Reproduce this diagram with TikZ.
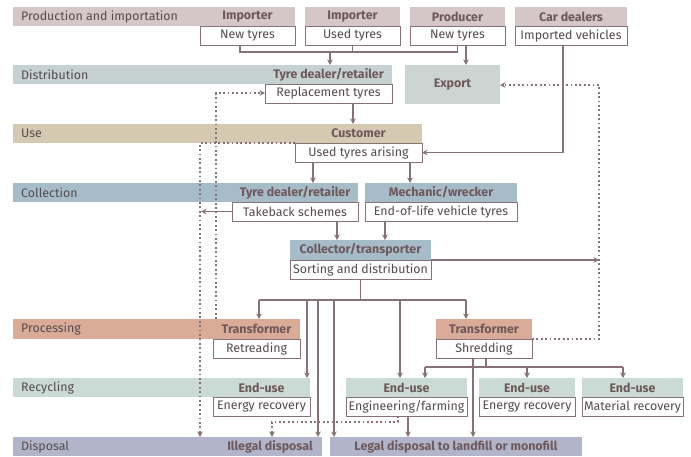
\documentclass[tikz,border=0pt]{standalone}
\usepackage{fontspec}
\setmainfont{Fira Sans}
\usetikzlibrary{arrows.meta,calc}
\definecolor{cprod}{RGB}{213,198,199}
\definecolor{cdist}{RGB}{198,210,210}
\definecolor{cexp}{RGB}{205,213,211}
\definecolor{cuse}{RGB}{214,201,178}
\definecolor{ccoll}{RGB}{166,189,201}
\definecolor{cproc}{RGB}{218,172,152}
\definecolor{crec}{RGB}{201,219,212}
\definecolor{cdisp}{RGB}{178,181,201}
\definecolor{cline}{RGB}{135,115,117}
\definecolor{ctext}{RGB}{85,75,78}
\definecolor{chead}{RGB}{110,88,92}
\begin{document}
\begin{tikzpicture}[x=1pt,y=-1pt,
 font=\fontsize{12.4}{14}\selectfont,
 band/.style={anchor=north west, minimum height=19pt, inner sep=0pt, outer sep=0pt},
 blabel/.style={anchor=west, text=ctext, inner sep=0pt},
 hdr/.style={font=\fontsize{12.4}{14}\selectfont\bfseries, text=chead, minimum height=19pt, inner sep=0pt, outer sep=0pt},
 box/.style={draw=cline, fill=white, line width=0.8pt, minimum height=19pt, inner sep=0pt, outer sep=0pt, text=ctext},
 ln/.style={draw=cline, line width=1.5pt},
 arr/.style={ln, -{Stealth[length=5.5pt,width=5.5pt]}},
 dots/.style={draw=cline, line width=1.6pt, dash pattern=on 1.8pt off 2.6pt},
 darr/.style={dots, -{Stealth[length=5.5pt,width=5.5pt]}},
]
\path[use as bounding box] (0,0) rectangle (691,456);

% ---------- Row 1: Production and importation
\node[band, fill=cprod, minimum width=282pt] (b1) at (13,7) {};
\node[blabel] (l1) at (21,16.5) {Production and importation};
\node[hdr] (h_imp1) at (247.5,16.5) {Importer};
\node[box, minimum width=95pt] (imp1) at (247.5,35.5) {New tyres};
\node[hdr, fill=cprod, minimum width=95pt] (h_imp2) at (352.5,16.5) {Importer};
\node[box, minimum width=95pt] (imp2) at (352.5,35.5) {Used tyres};
\node[hdr, fill=cprod, minimum width=95pt] (h_prod) at (457.5,16.5) {Producer};
\node[box, minimum width=95pt] (prod) at (457.5,35.5) {New tyres};
\node[hdr, fill=cprod, minimum width=112pt] (h_car) at (571,16.5) {Car dealers};
\node[box, minimum width=112pt] (car) at (571,35.5) {Imported vehicles};

% ---------- Row 2: Distribution
\node[band, fill=cdist, minimum width=379pt] (b2) at (13,65) {};
\node[blabel] (l2) at (21,74.5) {Distribution};
\node[hdr] (h_td1) at (328.5,74.5) {Tyre dealer/retailer};
\node[box, minimum width=127pt] (rep) at (328.5,93.5) {Replacement tyres};
\node[hdr, fill=cexp, minimum width=95pt, minimum height=39pt] (export) at (452.5,84.5) {Export};

% ---------- Row 3: Use
\node[band, fill=cuse, minimum width=409pt] (b3) at (13,124) {};
\node[blabel] (l3) at (21,133.5) {Use};
\node[hdr] (h_cust) at (358.5,133.5) {Customer};
\node[box, minimum width=127pt] (used) at (358.5,152.5) {Used tyres arising};

% ---------- Row 4: Collection
\node[band, fill=ccoll, minimum width=345pt] (b4) at (13,183) {};
\node[blabel] (l4) at (21,192.5) {Collection};
\node[hdr] (h_td2) at (295,192.5) {Tyre dealer/retailer};
\node[box, minimum width=126pt] (take) at (295,211.5) {Takeback schemes};
\node[hdr, fill=ccoll, minimum width=152pt] (h_mech) at (441,192.5) {Mechanic/wrecker};
\node[box, minimum width=152pt] (eol) at (441,211.5) {End-of-life vehicle tyres};

% ---------- Row 5: Collector
\node[hdr, fill=ccoll, minimum width=141pt, minimum height=20pt] (h_coll) at (360.5,250) {Collector/transporter};
\node[box, minimum width=141pt] (sort) at (360.5,269.5) {Sorting and distribution};

% ---------- Row 6: Processing
\node[band, fill=cproc, minimum width=287pt, minimum height=20pt] (b6) at (13,319) {};
\node[blabel] (l6) at (21,329) {Processing};
\node[hdr] (h_tr1) at (256.5,329) {Transformer};
\node[box, minimum width=87pt] (retr) at (256.5,348.5) {Retreading};
\node[hdr, fill=cproc, minimum width=96pt, minimum height=20pt] (h_tr2) at (484,329) {Transformer};
\node[box, minimum width=96pt] (shred) at (484,348.5) {Shredding};

% ---------- Row 7: Recycling
\node[band, fill=crec, minimum width=297pt] (b7) at (13,378) {};
\node[blabel] (l7) at (21,387.5) {Recycling};
\node[hdr] (h_eu1) at (261.5,387.5) {End-use};
\node[box, minimum width=97pt] (er1) at (261.5,406.5) {Energy recovery};
\node[hdr, fill=crec, minimum width=121pt] (h_eu2) at (406.5,387.5) {End-use};
\node[box, minimum width=121pt] (eng) at (406.5,406.5) {Engineering/farming};
\node[hdr, fill=crec, minimum width=96pt] (h_eu3) at (527,387.5) {End-use};
\node[box, minimum width=96pt] (er2) at (527,406.5) {Energy recovery};
\node[hdr, fill=crec, minimum width=101pt] (h_eu4) at (632.5,387.5) {End-use};
\node[box, minimum width=101pt] (mat) at (632.5,406.5) {Material recovery};

% ---------- Row 8: Disposal
\node[band, fill=cdisp, minimum width=309pt] (b8) at (13,437) {};
\node[blabel] (l8) at (21,446.5) {Disposal};
\node[hdr] (illegal) at (270,446.5) {Illegal disposal};
\node[hdr, fill=cdisp, minimum width=252pt] (legal) at (456,446.5) {Legal disposal to landfill or monofill};

% ---------- Connectors
\coordinate (j1) at (330,52);
\draw[ln] ([xshift=-7.5pt]imp1.south) |- (j1) -| (prod.south);
\draw[ln] (imp2.south) -- (imp2.south |- j1);
\draw[arr] (j1) -- (j1 |- b2.north);
\coordinate (p1) at ([xshift=8.5pt]prod.south);
\draw[arr] (p1) -- (p1 |- export.north);
\coordinate (c1) at ([xshift=-8pt]car.south);
\draw[arr] (c1) |- (used.east);
\coordinate (r1) at ([xshift=24.5pt]rep.south);
\draw[arr] (r1) -- (r1 |- b3.north);
\coordinate (u1) at ([xshift=-45.5pt]used.south);
\draw[arr] (u1) -- (u1 |- b4.north);
\coordinate (u2) at ([xshift=51.5pt]used.south);
\draw[arr] (u2) -- (u2 |- h_mech.north);
\coordinate (t1) at ([xshift=42pt]take.south);
\draw[arr] (t1) -- (t1 |- h_coll.north);
\coordinate (e0) at ([xshift=-56pt]eol.south);
\draw[arr] (e0) -- (e0 |- h_coll.north);

% dotted coordinates
\coordinate (dv1) at (200,143);
\coordinate (dt) at (216,93);
\coordinate (dr) at (599,85);
\coordinate (d4) at (272,422);

\draw[arr] (take.west) -- ([xshift=1pt]take.west -| dv1);
\draw[arr] (sort.north east) -- (sort.north east -| dr);

\draw[ln] (sort.south) -- ++(0,21) coordinate (s1);
\coordinate (sL) at (259,300);
\coordinate (sR) at (466,300);
\draw[ln] (sL) -- (sR);
\draw[arr] (sL) -- (sL |- b6.north);
\draw[arr] (sR) -- (sR |- h_tr2.north);
\coordinate (s2) at (307,300);
\draw[arr] (s2) -- (s2 |- b7.north);
\coordinate (s3) at (318,300);
\draw[arr] (s3) -- (s3 |- b8.north);
\coordinate (s4) at (334,300);
\draw[arr] (s4) -- (s4 |- legal.north);
\coordinate (s5) at (400,300);
\draw[arr] (s5) -- (s5 |- h_eu2.north);

\coordinate (sh1) at ([xshift=-11pt]shred.south);
\draw[arr] (sh1) -- (sh1 |- legal.north);
\coordinate (sh2) at ([xshift=2pt]shred.south);
\draw[ln] (sh2) -- ++(0,9);
\coordinate (eL) at (425,367);
\coordinate (eM) at (527,367);
\coordinate (eR) at (623,367);
\draw[ln] (eL) -- (eR);
\draw[arr] (eL) -- (eL |- h_eu2.north);
\draw[arr] (eM) -- (eM |- h_eu3.north);
\draw[arr] (eR) -- (eR |- h_eu4.north);
\coordinate (g1) at ([xshift=1.5pt]eng.south);
\draw[arr] (g1) -- (g1 |- legal.north);

% dotted connectors
\draw[darr] (dt |- b6.north) -- (dt) -- (dt -| rep.west);
\draw[darr] (used.north west) -- (dv1) -- (dv1 |- b8.north);
\draw[darr] (h_tr2.south east) -- (h_tr2.south east -| dr) -- (dr) -- (dr -| export.east);
\coordinate (e1) at ([xshift=-8.5pt]eng.south);
\draw[darr] (e1) |- (d4) -- (d4 |- b8.north);
\end{tikzpicture}
\end{document}
